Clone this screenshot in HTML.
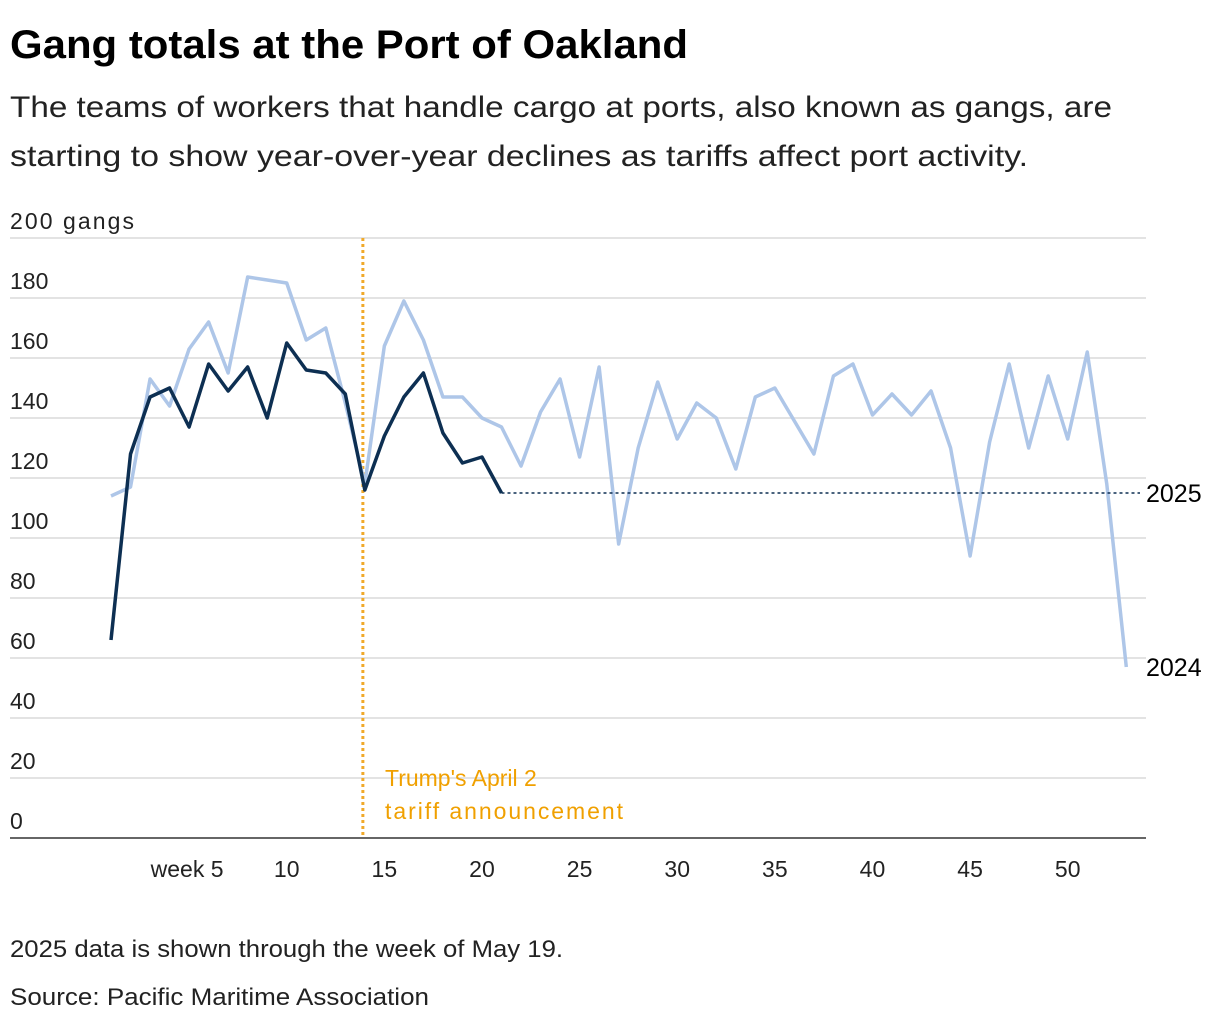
<!DOCTYPE html>
<html><head><meta charset="utf-8"><style>
body{margin:0;background:#fff;font-family:"Liberation Sans",sans-serif;}
svg text{font-family:"Liberation Sans",sans-serif;}
</style></head><body>
<svg width="1220" height="1026">
<text x="10" y="58" font-size="40" font-weight="bold" fill="#000" textLength="678" lengthAdjust="spacingAndGlyphs">Gang totals at the Port of Oakland</text>
<text x="10" y="117" font-size="30" fill="#222" textLength="1102" lengthAdjust="spacingAndGlyphs">The teams of workers that handle cargo at ports, also known as gangs, are</text>
<text x="10" y="166" font-size="30" fill="#222" textLength="1018" lengthAdjust="spacingAndGlyphs">starting to show year-over-year declines as tariffs affect port activity.</text>
<g id="grid"></g>
<g id="ylabels"></g>
<g id="xlabels"></g>
<g id="marks"></g>
<text x="10" y="957" font-size="24" fill="#222" textLength="553" lengthAdjust="spacingAndGlyphs">2025 data is shown through the week of May 19.</text>
<text x="10" y="1005" font-size="24" fill="#222" textLength="419" lengthAdjust="spacingAndGlyphs">Source: Pacific Maritime Association</text>
</svg>
<script>
const yTicks=[0,20,40,60,80,100,120,140,160,180,200];
const xTicks=[5,10,15,20,25,30,35,40,45,50];
const s2024=[114,117,153,144,163,172,155,187,186,185,166,170,145,118,164,179,166,147,147,140,137,124,142,153,127,157,98,130,152,133,145,140,123,147,150,139,128,154,158,141,148,141,149,130,94,132,158,130,154,133,162,118,57];
const s2025=[66,128,147,150,137,158,149,157,140,165,156,155,148,116,134,147,155,135,125,127,115];
const tariffWeek=13.9;
const NS="http://www.w3.org/2000/svg";
const x=w=>111+19.525*(w-1);
const y=v=>838-3*v;
function mk(tag,attrs,parent){const e=document.createElementNS(NS,tag);for(const k in attrs)e.setAttribute(k,attrs[k]);document.getElementById(parent).appendChild(e);return e;}
yTicks.forEach(t=>{
  if(t>0){const l=mk('line',{x1:10,x2:1146,y1:y(t),y2:y(t),stroke:'#e3e3e3','stroke-width':2},'grid');
  
  }
  const tx=mk('text',{x:10,y:y(t)-9,'font-size':23,fill:'#222'},'ylabels');
  tx.textContent=t===200?'200 gangs':String(t);
  if(t===200)tx.setAttribute('textLength',124);
  
  
});
const ax=mk('line',{x1:10,x2:1146,y1:y(0),y2:y(0),stroke:'#333','stroke-width':1.5},'grid');


xTicks.forEach(t=>{
  const tx=mk('text',{x:x(t),y:877,'font-size':23,fill:'#222','text-anchor':'middle'},'xlabels');
  tx.textContent=t===5?'week 5':String(t);
  if(t===5)tx.setAttribute('x',x(t)-2);
  
  
});
const vl=mk('line',{x1:x(tariffWeek),x2:x(tariffWeek),y1:y(200),y2:y(0),stroke:'#f0a92a','stroke-width':3,'stroke-dasharray':'3,3'},'marks');


const a1=mk('text',{x:385,y:786,'font-size':23,fill:'#f0a000'},'marks');a1.textContent="Trump's April 2";


const a2=mk('text',{x:385,y:819,'font-size':23,fill:'#f0a000','textLength':238},'marks');a2.textContent="tariff announcement";


const p24=mk('polyline',{points:s2024.map((v,i)=>x(i+1)+','+y(v)).join(' '),fill:'none',stroke:'#aec6e8','stroke-width':3.5,'stroke-linejoin':'round'},'marks');


const last=s2025[s2025.length-1];
const dl=mk('line',{x1:x(s2025.length),x2:1140,y1:y(last),y2:y(last),stroke:'#0d2f52','stroke-width':1.5,'stroke-dasharray':'3,3'},'marks');


const p25=mk('polyline',{points:s2025.map((v,i)=>x(i+1)+','+y(v)).join(' '),fill:'none',stroke:'#0d2f52','stroke-width':3.5,'stroke-linejoin':'round'},'marks');


const l25=mk('text',{x:1146,y:y(last)+9,'font-size':25,fill:'#000'},'marks');l25.textContent='2025';


const l24=mk('text',{x:1146,y:y(s2024[s2024.length-1])+9,'font-size':25,fill:'#000'},'marks');l24.textContent='2024';


</script>
</body></html>
